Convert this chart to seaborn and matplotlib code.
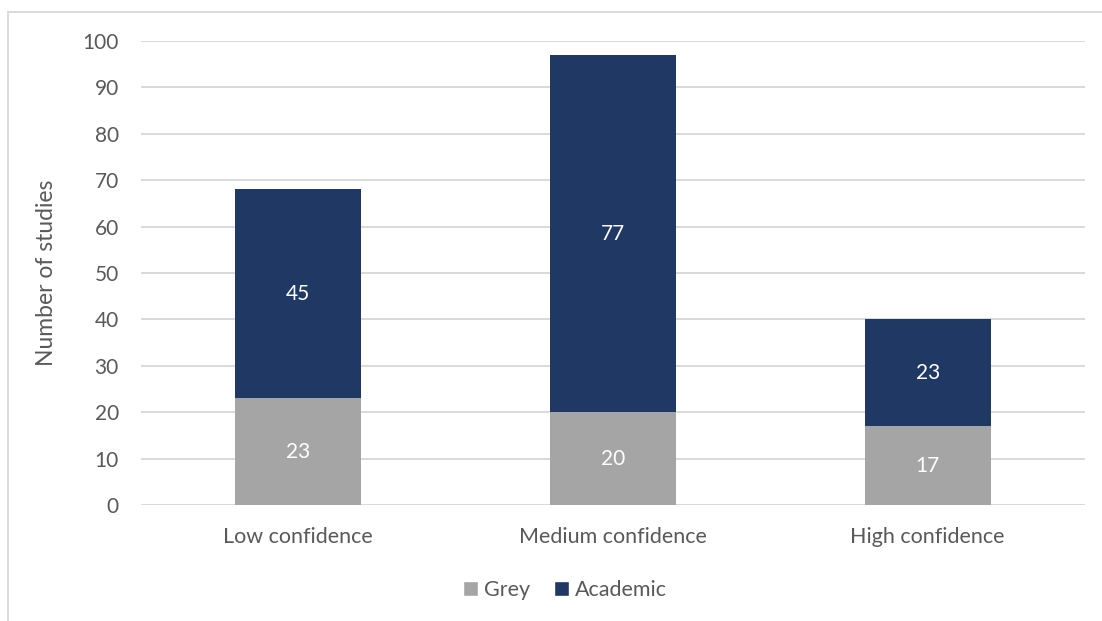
import matplotlib
matplotlib.use("Agg")
import matplotlib.pyplot as plt
import seaborn as sns
import pandas as pd
import numpy as np
from matplotlib.patches import Rectangle, Patch

categories = ["Low confidence", "Medium confidence", "High confidence"]
grey = [23, 20, 17]
academic = [45, 77, 23]
y_ticks = [0, 10, 20, 30, 40, 50, 60, 70, 80, 90, 100]

GREY_C = "#A5A5A5"
NAVY_C = "#203864"
TEXT_C = "#595959"
GRID_C = "#D9D9D9"

sns.set_theme(style="white")
plt.rcParams["font.family"] = ["Lato", "DejaVu Sans"]

df = pd.DataFrame({"category": categories, "Grey": grey, "Academic": academic})

fig = plt.figure(figsize=(11.02, 6.21), dpi=100)
ax = fig.add_axes([141 / 1102, 1 - 505 / 621, (1085 - 141) / 1102, (505 - 41) / 621])

sns.barplot(data=df, x="category", y="Grey", color=GREY_C, width=0.4,
            saturation=1, ax=ax, zorder=3, linewidth=0)
sns.barplot(data=df, x="category", y="Academic", color=NAVY_C, width=0.4,
            saturation=1, ax=ax, zorder=3, linewidth=0, bottom=df["Grey"].values)

for cont in ax.containers:
    ax.bar_label(cont, label_type="center", color="white", fontsize=15)

ax.set_ylim(0, 100)
ax.set_xlim(-0.5, 2.5)
ax.set_yticks(y_ticks)
ax.yaxis.grid(True, color=GRID_C, linewidth=1.4, zorder=0)
ax.set_axisbelow(True)
for s in ax.spines.values():
    s.set_visible(False)
ax.tick_params(axis="y", length=0, labelsize=15, colors=TEXT_C, pad=16)
ax.tick_params(axis="x", length=0, labelsize=15.5, colors=TEXT_C, pad=16)
ax.set_xlabel("")
ax.set_ylabel("Number of studies", fontsize=16.5, color=TEXT_C, labelpad=18)

handles = [Patch(facecolor=GREY_C, label="Grey"), Patch(facecolor=NAVY_C, label="Academic")]
fig.legend(handles=handles, loc="center", bbox_to_anchor=(565 / 1102, 1 - 590 / 621),
           ncol=2, frameon=False, fontsize=15.5, labelcolor=TEXT_C,
           handlelength=0.7, handleheight=0.7, handletextpad=0.3, columnspacing=1.1)

# chart area frame
fig.patches.append(Rectangle((7.5 / 1102, -0.1), 1.2, 1 - 11.5 / 621 + 0.1,
                             transform=fig.transFigure, fill=False,
                             edgecolor=GRID_C, linewidth=1.4))

fig.savefig("out.png", dpi=100)
